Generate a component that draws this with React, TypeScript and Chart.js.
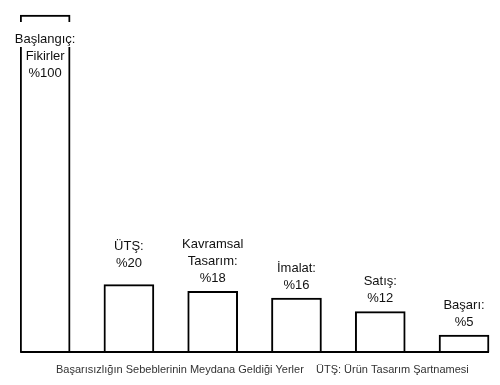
import React, { useEffect, useRef } from "react";
import { Chart, registerables } from "chart.js";

Chart.register(...registerables);

const stageNames: string[][] = [
  ["Başlangıç:", "Fikirler"],
  ["ÜTŞ:"],
  ["Kavramsal", "Tasarım:"],
  ["İmalat:"],
  ["Satış:"],
  ["Başarı:"],
];
const percentValues: number[] = [100, 20, 18, 16, 12, 5];
const footerLeft = "Başarısızlığın Sebeblerinin Meydana Geldiği Yerler";
const footerRight = "ÜTŞ: Ürün Tasarım Şartnamesi";

// styling only: extra upward lift of each label block (px)
const labelLift: number[] = [0, 8, 0, 0, 0, 0];

const FONT = '"Liberation Sans", Arial, Helvetica, sans-serif';

const labelPlugin = {
  id: "stageLabels",
  afterDatasetsDraw(chart: any) {
    const ctx = chart.ctx as CanvasRenderingContext2D;
    const meta = chart.getDatasetMeta(0);
    const area = chart.chartArea;
    ctx.save();
    // baseline
    const first = meta.data[0];
    const last = meta.data[meta.data.length - 1];
    const fw = first.width;
    ctx.strokeStyle = "#000";
    ctx.lineWidth = 2;
    ctx.beginPath();
    ctx.moveTo(first.x - fw / 2, first.base);
    ctx.lineTo(last.x + last.width / 2, first.base);
    ctx.stroke();

    ctx.font = `13px ${FONT}`;
    ctx.fillStyle = "#111";
    ctx.textAlign = "center";
    ctx.textBaseline = "middle";
    const lh = 17;
    meta.data.forEach((bar: any, i: number) => {
      const lines = [...stageNames[i], "%" + percentValues[i]];
      if (i === 0) {
        const y0 = bar.y + 24;
        lines.forEach((t, k) => {
          const y = y0 + k * lh;
          if (k === 0) {
            const w = ctx.measureText(t).width;
            ctx.fillStyle = "#fff";
            ctx.fillRect(bar.x - w / 2 - 2, y - 17, w + 4, 25);
            ctx.fillStyle = "#111";
          }
          ctx.fillText(t, bar.x, y);
        });
      } else {
        const yl = bar.y - 13 - labelLift[i];
        const n = lines.length;
        lines.forEach((t, k) => {
          ctx.fillText(t, bar.x, yl - (n - 1 - k) * lh);
        });
      }
    });

    ctx.font = `11px ${FONT}`;
    ctx.fillStyle = "#333";
    ctx.textAlign = "left";
    ctx.fillText(footerLeft, 56, area.bottom + 18);
    ctx.fillText(footerRight, 316, area.bottom + 18);
    ctx.restore();
  },
};

export default function App() {
  const ref = useRef<HTMLCanvasElement>(null);
  useEffect(() => {
    if (!ref.current) return;
    const chart = new Chart(ref.current, {
      type: "bar",
      data: {
        datasets: [
          {
            data: percentValues.map((v, i) => ({ x: i, y: v })),
            backgroundColor: "#fff",
            borderColor: "#000",
            borderWidth: 2,
            barThickness: 50,
          },
        ],
      },
      options: {
        responsive: false,
        animation: false,
        layout: { padding: { left: 20, right: 10, top: 0, bottom: 33 } },
        plugins: { legend: { display: false }, tooltip: { enabled: false } },
        scales: {
          x: { type: "linear", min: -0.3, max: 5.31, offset: false, display: false },
          y: { min: 0, max: 104.45, display: false },
        },
      },
      plugins: [labelPlugin],
    });
    return () => chart.destroy();
  }, []);
  return (
    <div style={{ position: "fixed", left: 0, top: 0, width: 500, height: 385, background: "#fff" }}>
      <canvas ref={ref} width={500} height={385} />
    </div>
  );
}
